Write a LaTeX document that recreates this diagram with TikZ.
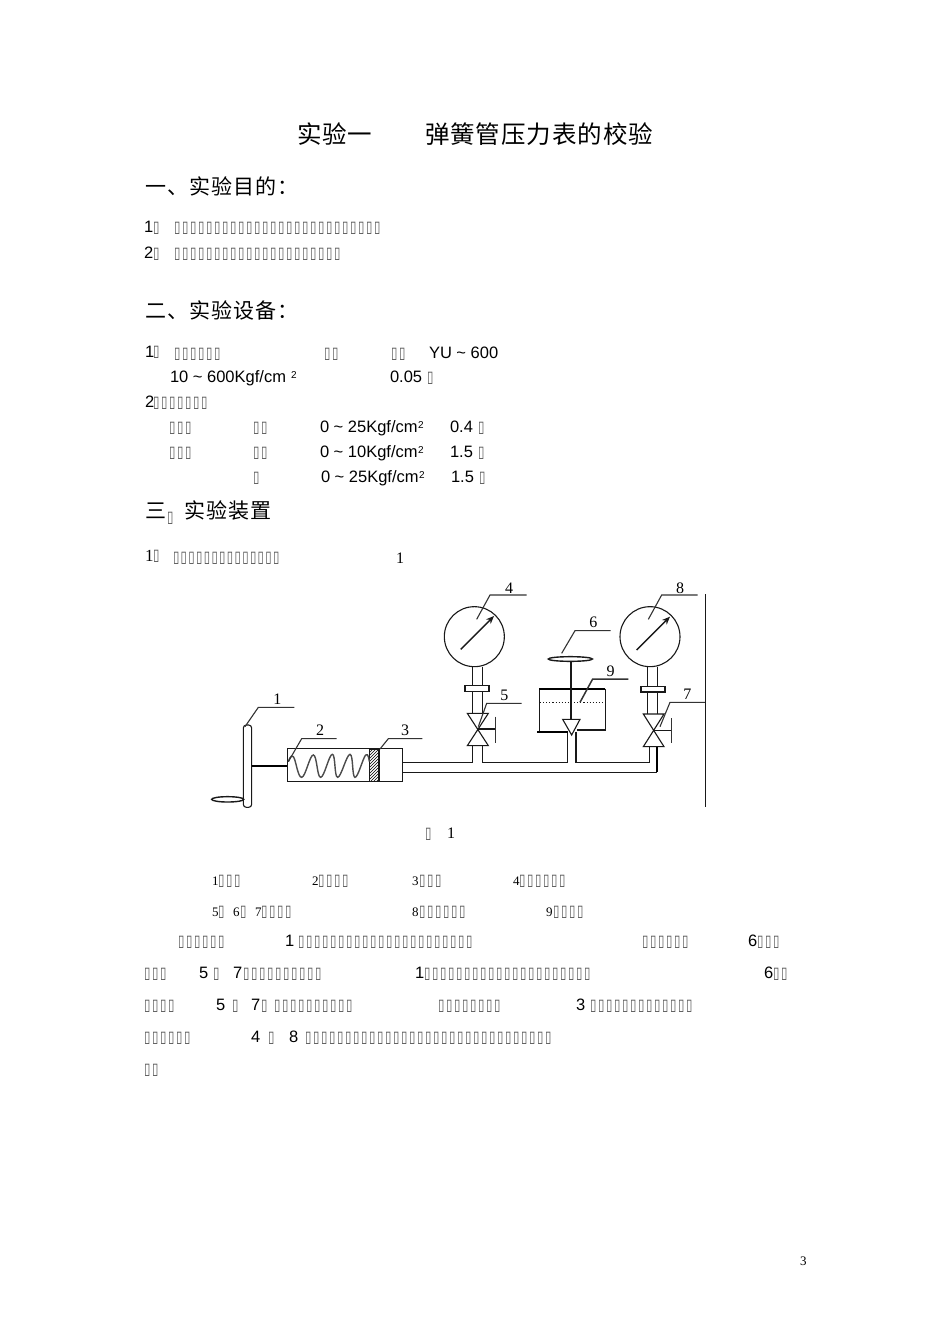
\documentclass[tikz,border=0pt]{standalone}
\usepackage{fontspec}
\usetikzlibrary{patterns,arrows.meta}
\setmainfont{Liberation Sans}
\newfontfamily\srf{Liberation Serif}
\newfontfamily\cjkh[LetterSpace=4]{Noto Sans CJK SC}
\newfontfamily\cjks[LetterSpace=5]{Noto Sans CJK SC}
\newfontfamily\tofuf[FakeStretch=0.72]{DejaVu Sans}
\newcommand\tfglyph{\fontsize{16}{16}\tofuf\textcolor{black!68}{▯}}
\newcommand\tfone{\makebox[8pt][l]{\tfglyph}}
\newcommand\tftight{\makebox[7.7pt][l]{\tfglyph}}
\newcommand\tf[1]{\foreach \tfi in {1,...,#1}{\tfone}}
\newcommand\tfb[1]{\foreach \tfi in {1,...,#1}{\tftight}}
\newcommand\Tx[4]{\node[txt] (#1) at (#2,#3) {#4};}
\newcommand\sz[1]{\fontsize{#1}{#1}\selectfont}
\tikzset{
  txt/.style={anchor=base west,inner sep=0pt,outer sep=0pt,text=black},
  ln/.style={draw=black!90,line width=1.1pt},
  thk/.style={draw=black,line width=1.9pt},
  lead/.style={draw=black!80,line width=1.1pt},
  lab/.style={inner sep=0pt,outer sep=0pt,font=\srf\sz{16}},
  pic3/.style={shift={(#1,570)},x=0.33333pt,y=-0.33333pt}
}
\begin{document}
\begin{tikzpicture}[x=1pt,y=-1pt]
\useasboundingbox (0,0) rectangle (950,1344);
\fill[white] (0,0) rectangle (950,1344);
% headings
\Tx{h1}{297}{143}{\cjkh\sz{24.5}实验一}
\Tx{h2}{425}{143}{\cjkh\sz{24.5}弹簧管压力表的校验}
\Tx{s1}{145}{194}{\cjks\sz{21}一、实验目的：}
\Tx{s2}{145}{318}{\cjks\sz{21}二、实验设备：}
\Tx{s3a}{145}{518}{\cjks\sz{21}三}
\Tx{s3b}{167}{522}{\tfone}
\Tx{s3c}{184}{518}{\cjks\sz{21}实验装置}
% objectives
\Tx{a1}{144}{232}{\sz{16.5}1}
\Tx{a1b}{153}{232}{\tfone}
\Tx{a1c}{174}{232}{\tf{26}}
\Tx{a2}{144}{258}{\sz{16.5}2}
\Tx{a2b}{153}{258}{\tfone}
\Tx{a2c}{174}{258}{\tf{21}}
% equipment
\Tx{b1}{145}{357}{\sz{16.5}1}
\Tx{b1b}{153}{356}{\tfone}
\Tx{b1c}{174}{358}{\tf{6}}
\Tx{b1d}{324}{358}{\tf{2}}
\Tx{b1e}{391}{358}{\tf{2}}
\Tx{b1f}{429}{358}{\sz{16.5}YU \textasciitilde{} 600}
\Tx{b2}{170}{382}{\sz{16.5}10 \textasciitilde{} 600Kgf/cm}
\Tx{b2s}{291}{378}{\sz{10}2}
\Tx{b2d}{390}{382}{\sz{16.5}0.05}
\Tx{b2e}{427}{382}{\tfone}
\Tx{c0}{145}{407}{\sz{16.5}2}
\Tx{c0b}{153}{407}{\tf{7}}
\Tx{c1a}{169}{432}{\tf{3}}
\Tx{c1b}{253}{432}{\tf{2}}
\Tx{c1c}{320}{432}{\sz{16.5}0 \textasciitilde{} 25Kgf/cm}
\Tx{c1s}{418}{428}{\sz{10}2}
\Tx{c1d}{450}{432}{\sz{16.5}0.4}
\Tx{c1e}{478}{432}{\tfone}
\Tx{c2a}{169}{457}{\tf{3}}
\Tx{c2b}{253}{457}{\tf{2}}
\Tx{c2c}{320}{457}{\sz{16.5}0 \textasciitilde{} 10Kgf/cm}
\Tx{c2s}{418}{453}{\sz{10}2}
\Tx{c2d}{450}{457}{\sz{16.5}1.5}
\Tx{c2e}{478}{457}{\tfone}
\Tx{c3b}{253}{482}{\tfone}
\Tx{c3c}{321}{482}{\sz{16.5}0 \textasciitilde{} 25Kgf/cm}
\Tx{c3s}{419}{478}{\sz{10}2}
\Tx{c3d}{451}{482}{\sz{16.5}1.5}
\Tx{c3e}{479}{482}{\tfone}
% apparatus line
\Tx{d1}{145}{561}{\srf\sz{17}1}
\Tx{d1b}{153}{560}{\tfone}
\Tx{d1c}{173}{562}{\tfb{14}}
\Tx{d1d}{396}{563}{\srf\sz{16}1}
% figure, left part
\begin{scope}[pic3=200]
  \draw[ln,rounded corners=3pt] (130,465) rectangle (155,712);
  \draw[ln,line width=1.4pt,fill=white] (83,688) ellipse [x radius=48,y radius=8];
  \draw[thk,line width=1.5pt] (155,588) -- (262,588);
  \draw[ln] (262,535) rectangle (607,635);
  \draw[ln,pattern=north east lines] (508,537) rectangle (537,635);
  \draw[ln,line width=1.5pt] (537,535) -- (537,635);
  \draw[ln,line width=1.4pt,draw=black!70] plot[smooth,tension=0.7] coordinates
    {(265,575) (280,560) (305,622) (340,555) (362,622) (397,553) (413,622) (450,553) (465,622) (497,555) (508,575)};
  \draw[lead] (135,470) -- (175,412) -- (283,412);
  \draw[lead] (265,575) -- (305,506) -- (410,506);
  \draw[lead] (540,537) -- (565,506) -- (667,506);
  \node[lab] (n1) at (232,387) {1};
  \node[lab] (n2) at (360,482) {2};
  \node[lab] (n3) at (615,482) {3};
  \draw[ln,line width=1.5pt] (607,578) -- (820,578);
  \draw[ln] (607,607) -- (840,607);
\end{scope}
% figure, right part
\begin{scope}[pic3=440]
  % left gauge
  \draw[ln] (103,200) circle [radius=90];
  \draw[ln,-{Stealth[length=8pt,width=6.5pt]},line width=1.4pt] (62,238) -- (162,138);
  \draw[ln] (98,290) -- (98,430) (128,290) -- (128,430);
  \draw[ln,fill=white] (75,346) rectangle (147,365);
  \draw[ln] (82,430) -- (145,430) -- (82,527) -- (145,527) -- cycle;
  \draw[ln,line width=1.7pt] (113,478) -- (165,478);
  \draw[lead,line width=0.9pt] (165,440) -- (165,520);
  \draw[lead] (115,470) -- (140,400) -- (245,400);
  \draw[lead] (110,148) -- (150,75) -- (260,75);
  \node[lab] (n4) at (207,55) {4};
  \node[lab] (n5) at (193,375) {5};
  % joins
  \draw[ln,line width=1.5pt] (-1,578) -- (98,578) -- (98,527);
  \draw[ln] (128,527) -- (128,578) -- (383,578) -- (383,485);
  \draw[ln] (408,485) -- (408,578) -- (628,578) -- (628,530);
  \draw[ln] (-1,607) -- (652,607);
  \draw[thk] (652,607) -- (652,530);
  % tank
  \draw[ln] (298,356) -- (298,485);
  \draw[ln] (497,356) -- (497,480) -- (410,480);
  \draw[thk] (298,356) -- (495,356);
  \draw[thk] (292,485) -- (385,485);
  \draw[ln,dotted,line width=0.8pt] (300,398) -- (497,398);
  \draw[ln] (393,268) -- (393,450);
  \draw[ln,fill=white] (368,448) -- (420,448) -- (395,495) -- cycle;
  \draw[ln,line width=1.4pt,fill=white] (391,267) ellipse [x radius=66,y radius=7];
  \draw[lead] (365,250) -- (405,182) -- (512,182);
  \draw[lead,line width=1.5pt] (420,397) -- (458,327) -- (565,327);
  \node[lab] (n6) at (460,158) {6};
  \node[lab] (n9) at (512,305) {9};
  % right gauge
  \draw[ln] (630,200) circle [radius=90];
  \draw[ln,-{Stealth[length=8pt,width=6.5pt]},line width=1.4pt] (590,240) -- (690,140);
  \draw[ln] (622,290) -- (622,432) (652,290) -- (652,432);
  \draw[ln,fill=white] (603,350) rectangle (675,366);
  \draw[ln] (610,432) -- (672,432) -- (610,530) -- (672,530) -- cycle;
  \draw[ln] (641,482) -- (695,482);
  \draw[lead,line width=0.9pt] (695,445) -- (695,520);
  \draw[lead] (660,470) -- (690,397) -- (797,397);
  \draw[lead] (625,148) -- (665,75) -- (773,75);
  \draw[ln] (797,72) -- (797,712);
  \node[lab] (n7) at (742,373) {7};
  \node[lab] (n8) at (720,55) {8};
\end{scope}
% caption
\Tx{f1}{425}{838}{\tfone}
\Tx{f2}{447}{838}{\srf\sz{16}1}
% legend
\Tx{e1}{212}{885}{\srf\sz{13}1}
\Tx{e1b}{218}{885}{\tf{3}}
\Tx{e2}{312}{885}{\srf\sz{13}2}
\Tx{e2b}{318}{885}{\tf{4}}
\Tx{e3}{412}{885}{\srf\sz{13}3}
\Tx{e3b}{419}{885}{\tf{3}}
\Tx{e4}{513}{885}{\srf\sz{13}4}
\Tx{e4b}{519}{885}{\tf{6}}
\Tx{e5}{212}{916}{\srf\sz{13}5}
\Tx{e5b}{218}{916}{\tfone}
\Tx{e6}{233}{916}{\srf\sz{13}6}
\Tx{e6b}{240}{916}{\tfone}
\Tx{e7}{255}{916}{\srf\sz{13}7}
\Tx{e7b}{261}{916}{\tf{4}}
\Tx{e8}{412}{916}{\srf\sz{13}8}
\Tx{e8b}{419}{916}{\tf{6}}
\Tx{e9}{546}{916}{\srf\sz{13}9}
\Tx{e9b}{553}{916}{\tf{4}}
% paragraph
\Tx{p1a}{178}{946}{\tf{6}}
\Tx{p1b}{285}{946}{\sz{16.5}1}
\Tx{p1c}{298}{946}{\tf{22}}
\Tx{p1d}{642}{946}{\tf{6}}
\Tx{p1e}{748}{946}{\sz{16.5}6}
\Tx{p1f}{757}{946}{\tf{3}}
\Tx{p2a}{144}{978}{\tf{3}}
\Tx{p2b}{199}{978}{\sz{16.5}5}
\Tx{p2c}{213}{978}{\tfone}
\Tx{p2d}{233}{978}{\sz{16.5}7}
\Tx{p2e}{243}{978}{\tf{10}}
\Tx{p2f}{415}{978}{\sz{16.5}1}
\Tx{p2g}{424}{978}{\tf{21}}
\Tx{p2h}{764}{978}{\sz{16.5}6}
\Tx{p2i}{773}{978}{\tf{2}}
\Tx{p3a}{144}{1010}{\tf{4}}
\Tx{p3b}{216}{1010}{\sz{16.5}5}
\Tx{p3c}{232}{1010}{\tfone}
\Tx{p3d}{251}{1010}{\sz{16.5}7}
\Tx{p3e}{261}{1010}{\tfone}
\Tx{p3f}{274}{1010}{\tf{10}}
\Tx{p3g}{438}{1010}{\tf{8}}
\Tx{p3h}{576}{1010}{\sz{16.5}3}
\Tx{p3i}{590}{1010}{\tf{13}}
\Tx{p4a}{144}{1042}{\tf{6}}
\Tx{p4b}{251}{1042}{\sz{16.5}4}
\Tx{p4c}{268}{1042}{\tfone}
\Tx{p4d}{289}{1042}{\sz{16.5}8}
\Tx{p4e}{305}{1042}{\tf{31}}
\Tx{p5a}{144}{1074}{\tf{2}}
\Tx{pg}{800}{1265}{\srf\sz{13}3}
\end{tikzpicture}
\end{document}
